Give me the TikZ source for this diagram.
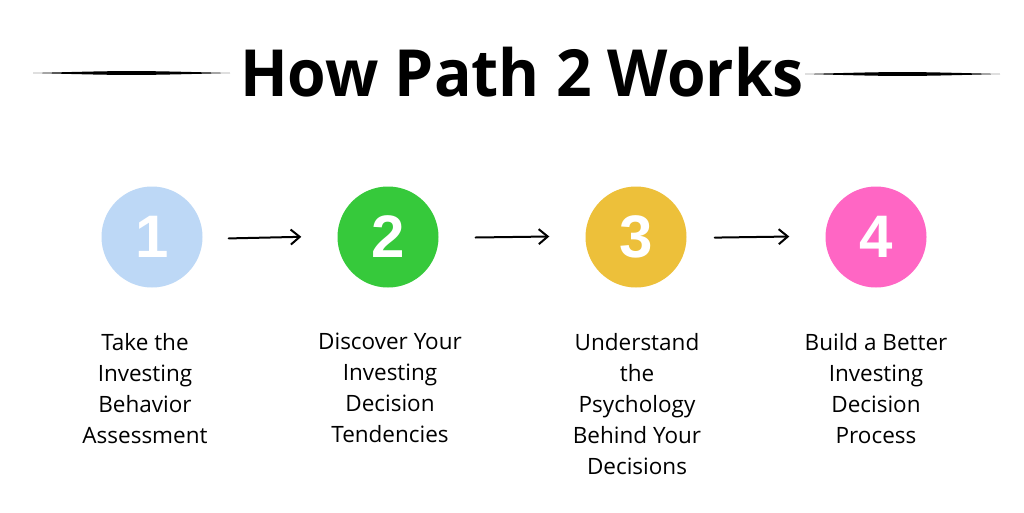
\documentclass[tikz,border=0pt]{standalone}
\usepackage{fontspec}
\setmainfont{Open Sans}
\newfontfamily\numfont{Liberation Sans}
\usepackage{xcolor}
\usetikzlibrary{arrows.meta, positioning, calc}
\definecolor{background}{HTML}{ffffff}
\definecolor{stepblue}{HTML}{BDD8F6}
\definecolor{stepgreen}{HTML}{36C93B}
\definecolor{stepgold}{HTML}{EDC03A}
\definecolor{steppink}{HTML}{FF66C4}
\tikzset{
    stepcircle/.style = {circle, fill = #1, minimum size = 101pt, inner sep = 0pt, text = white, font = \numfont\bfseries\fontsize{60}{60}\selectfont},
    steptext/.style = {align = center, anchor = north, inner sep = 0pt, font = \fontsize{22.5}{31}\selectfont},
    arrow/.style = {-{Straight Barb[length=9pt, width=15pt]}, line width = 2pt, line cap = round},
%     title/.style={font=\bfseries},
}

\begin{document}
\begin{tikzpicture}[x=1pt, y=-1pt]
        \useasboundingbox[fill=background] (0,0) rectangle (1024,512);
        % Title
        \node (title) [anchor=base, inner sep=0pt, font=\bfseries\fontsize{65}{65}\selectfont] at (522,96) {\scalebox{0.96}[1]{How Path 2 Works}};
        \coordinate (ll) at (33,73);
        \coordinate (lr) at (230,73);
        \coordinate (rl) at (805,74);
        \coordinate (rr) at (1000,74);
        \fill (ll) .. controls ($(ll)!0.5!(lr) + (0,-2.6)$) .. (lr) .. controls ($(ll)!0.5!(lr) + (0,2.6)$) .. (ll);
        \fill (rl) .. controls ($(rl)!0.5!(rr) + (0,-2.6)$) .. (rr) .. controls ($(rl)!0.5!(rr) + (0,2.6)$) .. (rl);
        % Circles
        \node (c1) [stepcircle = stepblue] at (152,237) {1};
        \node (c2) [stepcircle = stepgreen] at (388,237) {2};
        \node (c3) [stepcircle = stepgold] at (636,237) {3};
        \node (c4) [stepcircle = steppink] at (876,237) {4};
        % Arrows
        \draw[arrow, shorten <= 26pt, shorten >= 36pt] ([yshift=-2pt]c1.east) to ([yshift=1pt]c2.west);
        \draw[arrow, shorten <= 37pt, shorten >= 36pt] ([yshift=-1pt]c2.east) to ([yshift=1pt]c3.west);
        \draw[arrow, shorten <= 28pt, shorten >= 36pt] ([yshift=-1pt]c3.east) to ([yshift=1pt]c4.west);
        % Steps
        \node (t1) [steptext] at (145,333) {Take the\\Investing\\Behavior\\Assessment};
        \node (t2) [steptext] at (390,333) {Discover Your\\Investing\\Decision\\Tendencies};
        \node (t3) [steptext] at (637,333) {Understand\\the\\Psychology\\Behind Your\\Decisions};
        \node (t4) [steptext] at (876,333) {Build a Better\\Investing\\Decision\\Process};
    \end{tikzpicture}
\end{document}
